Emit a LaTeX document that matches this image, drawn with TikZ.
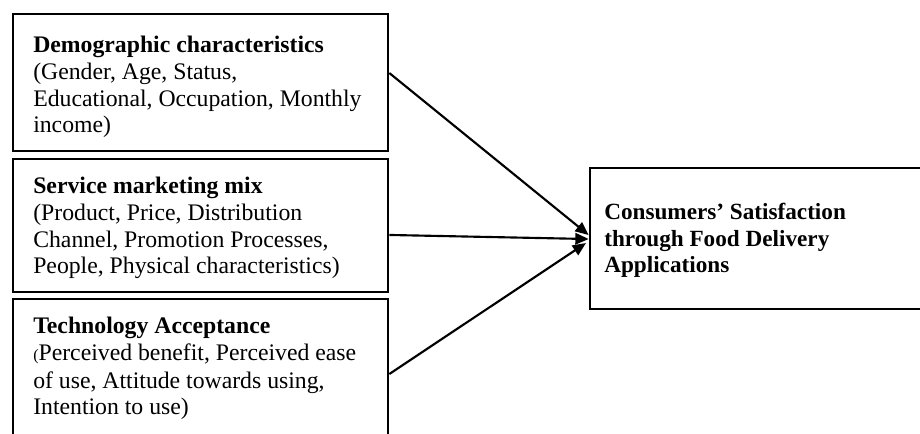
\documentclass[tikz,border=0pt]{standalone}
\usepackage{fontspec}
\setmainfont{Liberation Serif}
\usetikzlibrary{arrows.meta,fit}
\begin{document}
\begin{tikzpicture}[x=0.75pt,y=-0.75pt,
  box/.style={draw, line width=2pt, inner sep=0pt},
  txt/.style={align=left, inner sep=0pt, anchor=north west, font=\fontsize{17.8}{20}\selectfont},
  btxt/.style={align=left, inner sep=0pt, anchor=north west, font=\fontsize{17.4}{20}\selectfont\bfseries},
  conn/.style={line width=1.6pt, -{Triangle[length=10pt,width=8.5pt]}}]
\useasboundingbox (0,0) rectangle (920,434);
\clip (0,0) rectangle (920,434);
\node[box, fit={(13,14)(388,151)}] (b1) {};
\node[box, fit={(13,159)(388,292)}] (b2) {};
\node[box, fit={(13,299)(388,437)}] (b3) {};
\node[box, fit={(590,168)(935,309)}] (rb) {};
\node[txt] (t1) at (33,36) {\textbf{Demographic characteristics}\\(Gender, Age, Status,\\Educational, Occupation, Monthly\\income)};
\node[txt] (t2) at (33,177) {\textbf{Service marketing mix}\\(Product, Price, Distribution\\Channel, Promotion Processes,\\People, Physical characteristics)};
\node[txt] (t3) at (33,317) {\textbf{Technology Acceptance}\\{\fontsize{12}{12}\selectfont(}Perceived benefit, Perceived ease\\[0.8pt]of use, Attitude towards using,\\Intention to use)};
\node[btxt] (t4) at (604,203) {Consumers’ Satisfaction\\through Food Delivery\\Applications};
\draw[conn] ([yshift=7.1pt]b1.east) -- ([yshift=2.6pt]rb.west);
\draw[conn] ([yshift=-7.1pt]b2.east) -- ([yshift=-0.4pt]rb.west);
\draw[conn] ([yshift=-4.5pt]b3.east) -- ([xshift=-2pt,yshift=-3.4pt]rb.west);
\end{tikzpicture}
\end{document}
